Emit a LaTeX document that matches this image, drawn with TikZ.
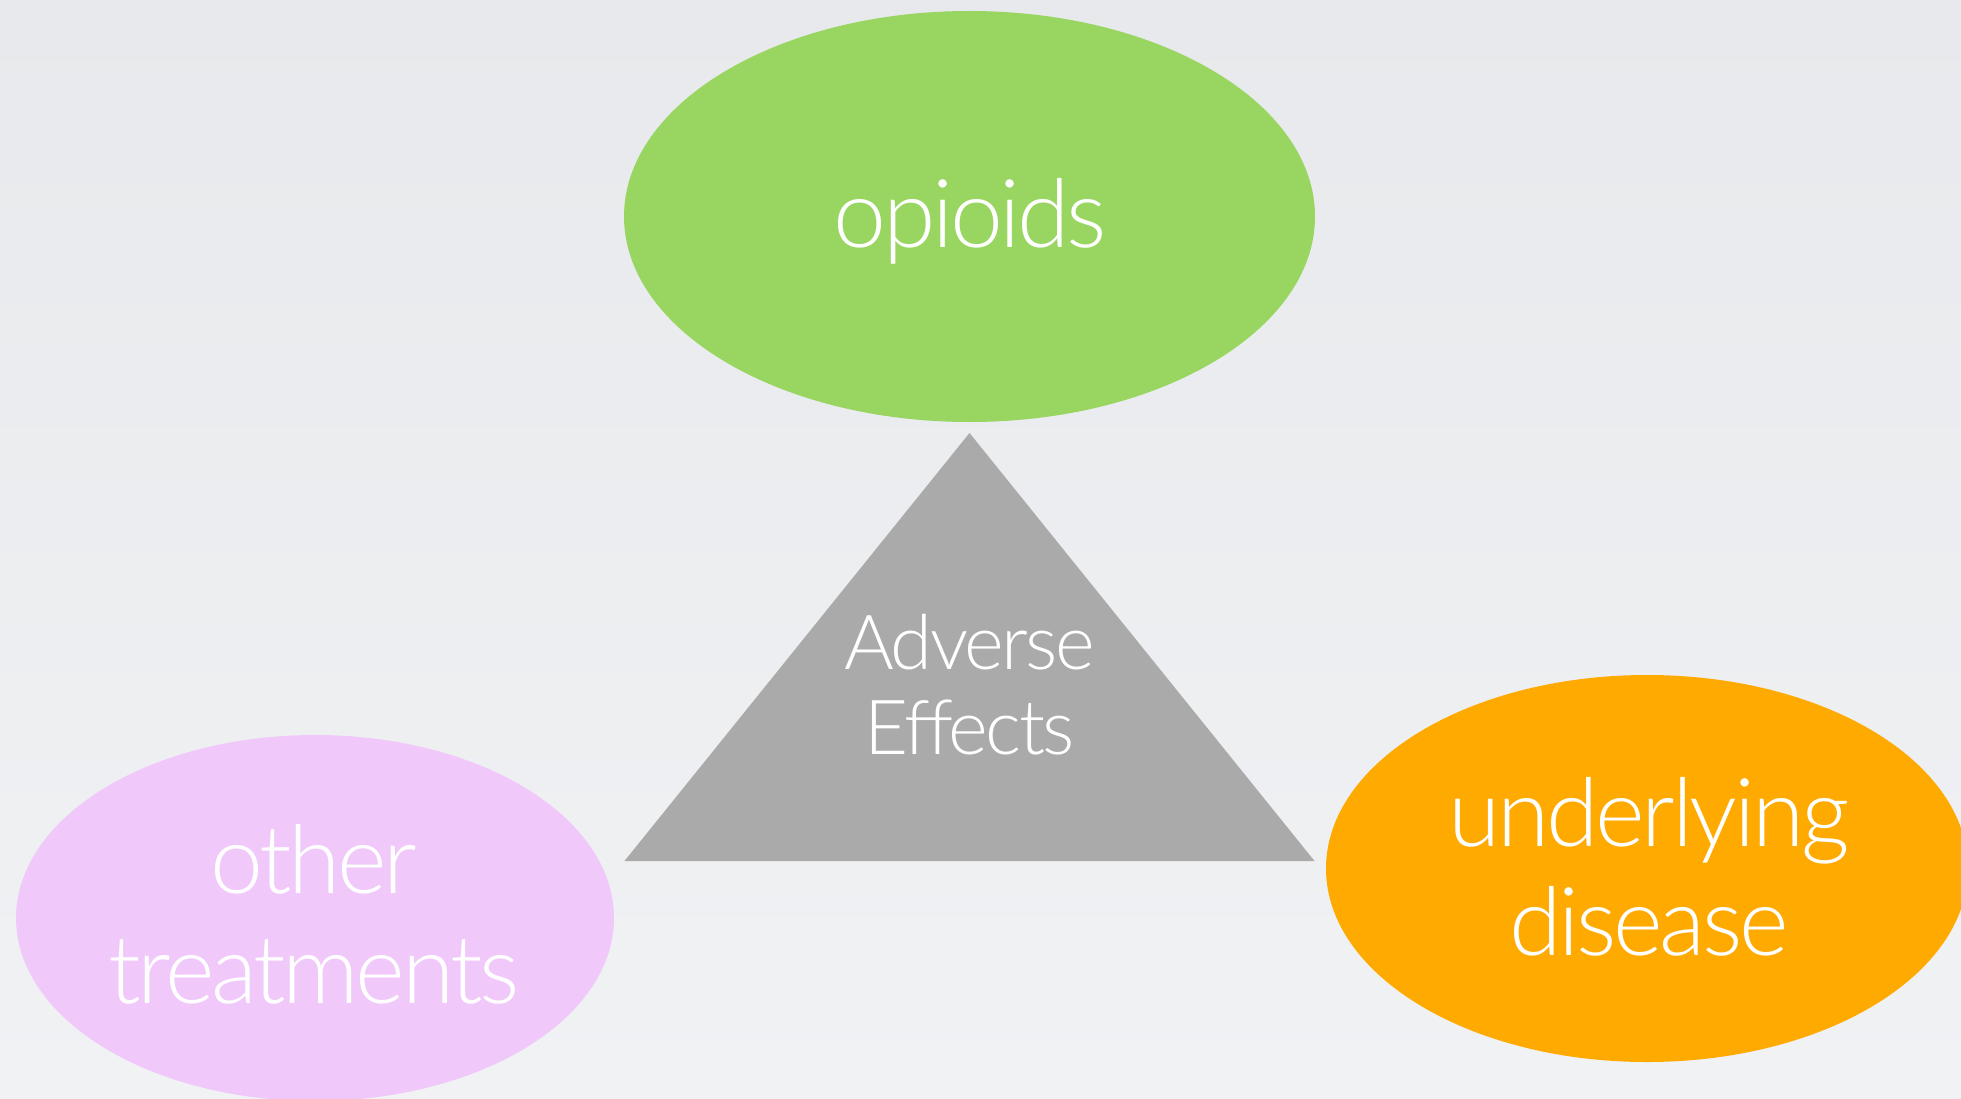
\documentclass[tikz,border=0pt]{standalone}
\usepackage{fontspec}
\setmainfont{Lato}[UprightFont={* Light}, LetterSpace=-3.5]
\usetikzlibrary{shapes.geometric}
\definecolor{bgtop}{RGB}{232,233,236}
\definecolor{bgbot}{RGB}{241,242,244}
\definecolor{greenfill}{RGB}{153,213,97}
\definecolor{orangefill}{RGB}{255,170,0}
\definecolor{pinkfill}{RGB}{240,201,250}
\definecolor{grayfill}{RGB}{170,170,170}
\tikzset{
  blob/.style={ellipse, draw=none, inner sep=0pt},
  bigtext/.style={text=white, anchor=base, inner sep=0pt, font=\fontsize{95}{105}\selectfont},
  midtext/.style={text=white, anchor=base, inner sep=0pt, font=\fontsize{76}{85}\selectfont},
}
\begin{document}
\begin{tikzpicture}[x=1pt,y=-1pt]
\useasboundingbox (0,0) rectangle (1961,1099);
\clip (0,0) rectangle (1961,1099);
\shade[top color=bgtop, bottom color=bgbot] (0,0) rectangle (1961,1099);

% triangle
\coordinate (apex) at (969.5,433);
\coordinate (bl) at (624.5,861);
\coordinate (br) at (1314.5,861);
\fill[grayfill] (apex) -- (br) -- (bl) -- cycle;

% ellipses
\node[blob, fill=greenfill, minimum width=691pt, minimum height=411pt] (opioids) at (969.5,216.5) {};
\node[blob, fill=pinkfill, minimum width=598pt, minimum height=366pt] (other) at (315,918) {};
\node[blob, fill=orangefill, minimum width=642pt, minimum height=387pt] (disease) at (1647,868.5) {};

% labels
\node[bigtext] (opioidsT) at (970,248) {opioids};
\node[bigtext] (otherT1) at (314,893) {other};
\node[bigtext] (otherT2) at (314,1003) {treatments};
\node[bigtext] (diseaseT1) at (1649,846) {underlying};
\node[bigtext] (diseaseT2) at (1649,955) {disease};
\node[midtext] (adverseT1) at (969.5,669) {Adverse};
\node[midtext] (adverseT2) at (969.5,754) {Effects};
\end{tikzpicture}
\end{document}
